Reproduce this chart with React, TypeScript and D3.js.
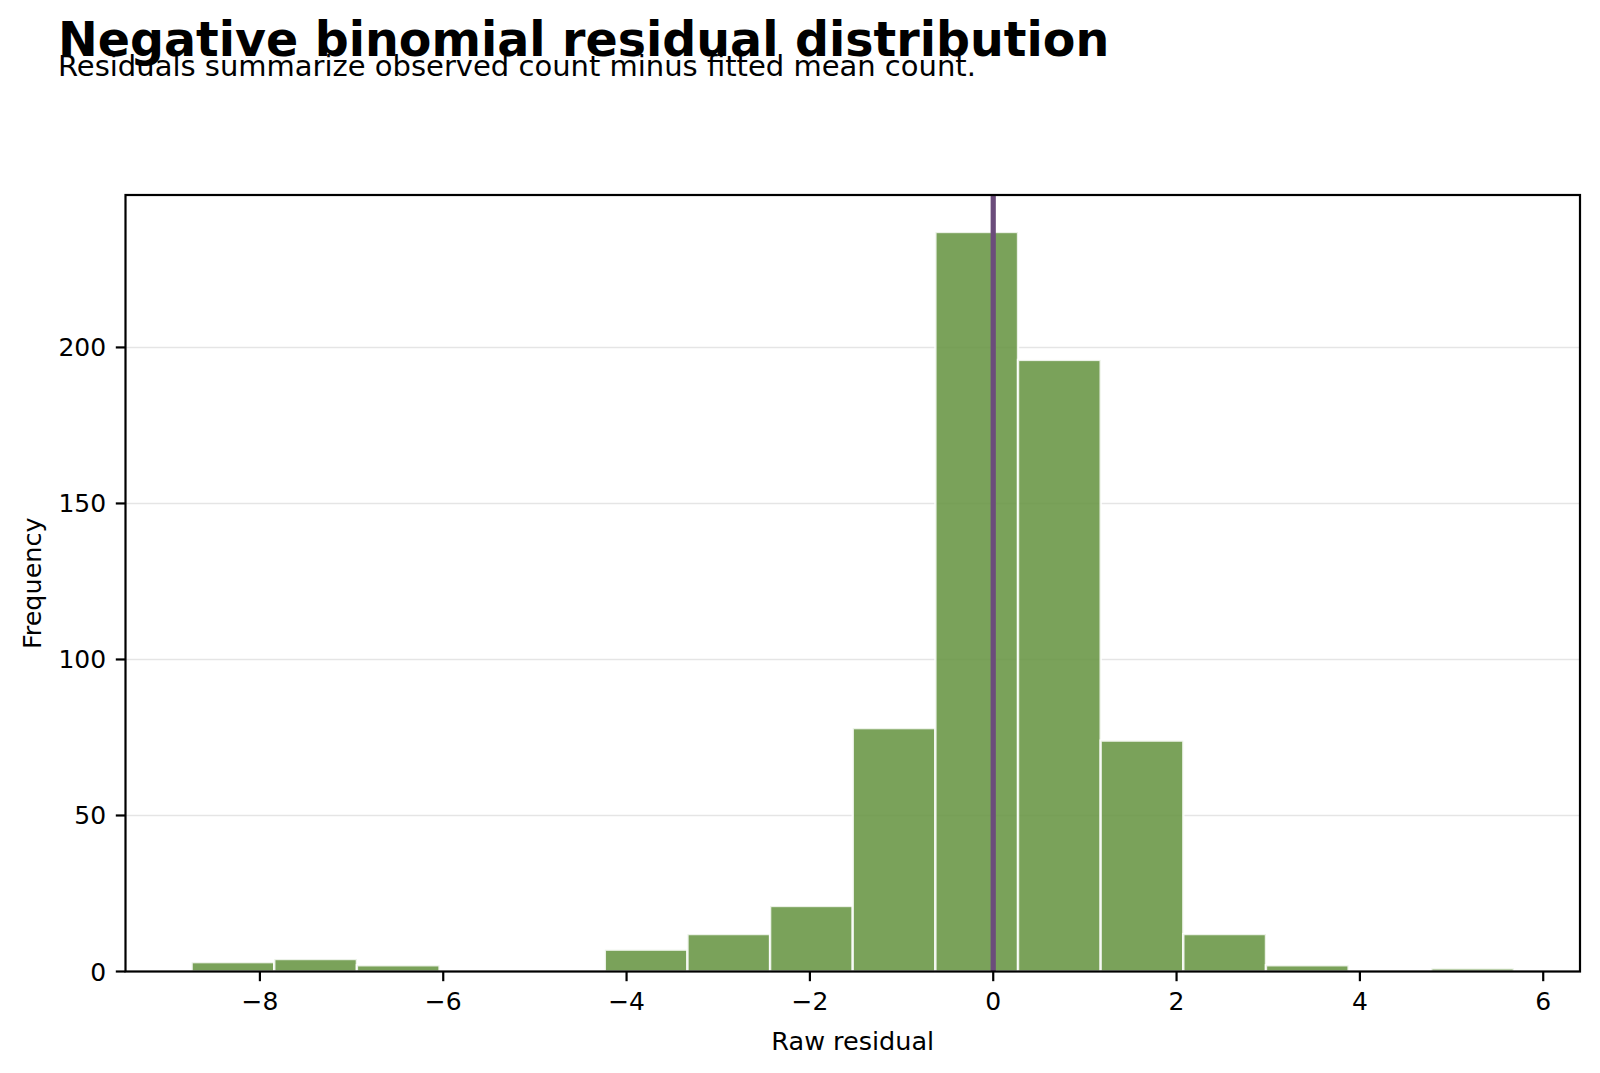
import React from "react";
import * as d3 from "d3";

const binStart = -8.745;
const binEnd = 5.68;
const counts = [3, 4, 2, 0, 0, 7, 12, 21, 78, 237, 196, 74, 12, 2, 0, 1];
const xTicks = [-8, -6, -4, -2, 0, 2, 4, 6];
const yTicks = [0, 50, 100, 150, 200];
const refLine = 0;

const W = 1600;
const H = 1073;
const M = { left: 125.5, right: 1580, top: 195, bottom: 971.5 };
const FONT = "DejaVu Sans, sans-serif";

export default function App() {
  const binW = (binEnd - binStart) / counts.length;
  const bins = counts.map((c, i) => ({ x0: binStart + i * binW, x1: binStart + (i + 1) * binW, c }));
  const span = binEnd - binStart;
  const x = d3.scaleLinear().domain([binStart - 0.05 * span, binEnd + 0.05 * span]).range([M.left, M.right]);
  const yMax = (d3.max(counts) as number) * 1.05;
  const y = d3.scaleLinear().domain([0, yMax]).range([M.bottom, M.top]);

  return (
    <svg width={W} height={H} style={{ position: "absolute", left: 0, top: 0, background: "#fff" }} fontFamily={FONT}>
      <rect x={0} y={0} width={W} height={H} fill="#fff" />
      {yTicks.map((t) => (
        <line key={"g" + t} x1={M.left} x2={M.right} y1={y(t)} y2={y(t)} stroke="#e5e5e5" strokeWidth={1.6} />
      ))}
      {bins.map((b, i) =>
        b.c > 0 ? (
          <rect
            key={i}
            x={x(b.x0)}
            y={y(b.c)}
            width={x(b.x1) - x(b.x0)}
            height={y(0) - y(b.c)}
            fill="#64933f"
            fillOpacity={0.86}
            stroke="#ffffff"
            strokeOpacity={0.85}
            strokeWidth={2.4}
          />
        ) : null
      )}
      <line x1={x(refLine)} x2={x(refLine)} y1={M.top} y2={M.bottom} stroke="#6b4c7b" strokeWidth={5.2} />
      <rect x={M.left} y={M.top} width={M.right - M.left} height={M.bottom - M.top} fill="none" stroke="#000" strokeWidth={2.2} />
      {xTicks.map((t) => (
        <g key={"x" + t}>
          <line x1={x(t)} x2={x(t)} y1={M.bottom} y2={M.bottom + 9.7} stroke="#000" strokeWidth={2.2} />
          <text x={x(t)} y={M.bottom + 19.4} dy="0.76em" textAnchor="middle" fontSize={25} fill="#000">
            {t < 0 ? "\u2212" + Math.abs(t) : String(t)}
          </text>
        </g>
      ))}
      {yTicks.map((t) => (
        <g key={"y" + t}>
          <line x1={M.left - 9.7} x2={M.left} y1={y(t)} y2={y(t)} stroke="#000" strokeWidth={2.2} />
          <text x={M.left - 19.4} y={y(t)} dy="0.36em" textAnchor="end" fontSize={25} fill="#000">
            {t}
          </text>
        </g>
      ))}
      <text x={(M.left + M.right) / 2} y={1050} textAnchor="middle" fontSize={25.5} fill="#000">
        Raw residual
      </text>
      <text transform={`translate(41, ${(M.top + M.bottom) / 2}) rotate(-90)`} textAnchor="middle" fontSize={25.5} fill="#000">
        Frequency
      </text>
      <text x={58} y={56} fontSize={47.5} fontWeight="bold" fill="#000">
        Negative binomial residual distribution
      </text>
      <text x={58} y={76} fontSize={29} fill="#000">
        Residuals summarize observed count minus fitted mean count.
      </text>
    </svg>
  );
}
